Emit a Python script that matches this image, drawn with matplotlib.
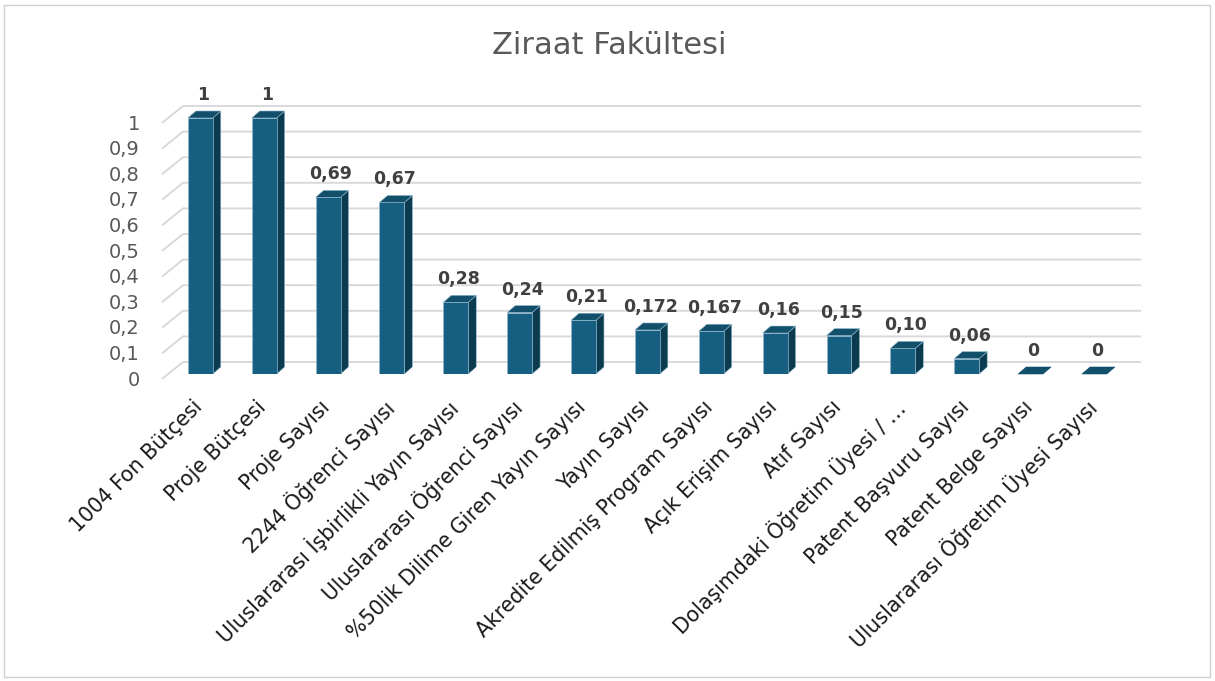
import matplotlib
matplotlib.use('Agg')
import matplotlib.pyplot as plt
from matplotlib.patches import Polygon, Rectangle
from matplotlib.lines import Line2D
from matplotlib.transforms import IdentityTransform
import numpy as np

# ---------------- data ----------------
title = 'Ziraat Fakültesi'
categories = [
    '1004 Fon Bütçesi',
    'Proje Bütçesi',
    'Proje Sayısı',
    '2244 Öğrenci Sayısı',
    'Uluslararası İşbirlikli Yayın Sayısı',
    'Uluslararası Öğrenci Sayısı',
    '%50lik Dilime Giren Yayın Sayısı',
    'Yayın Sayısı',
    'Akredite Edilmiş Program Sayısı',
    'Açık Erişim Sayısı',
    'Atıf Sayısı',
    'Dolaşımdaki Öğretim Üyesi / …',
    'Patent Başvuru Sayısı',
    'Patent Belge Sayısı',
    'Uluslararası Öğretim Üyesi Sayısı',
]
values = [1, 1, 0.69, 0.67, 0.28, 0.24, 0.21, 0.172, 0.167, 0.16, 0.15, 0.10, 0.06, 0, 0]
value_labels = ['1', '1', '0,69', '0,67', '0,28', '0,24', '0,21', '0,172', '0,167',
                '0,16', '0,15', '0,10', '0,06', '0', '0']
yticks = [0, 0.1, 0.2, 0.3, 0.4, 0.5, 0.6, 0.7, 0.8, 0.9, 1.0]
ytick_labels = ['0', '0,1', '0,2', '0,3', '0,4', '0,5', '0,6', '0,7', '0,8', '0,9', '1']

# ---------------- style ----------------
W, H = 1215, 681
FRONT = '#165F80'
TOP = '#114F6B'
SIDE = '#0C3B50'
EDGE = '#8FB8CC'
GRID = '#D9D9D9'
PX = 0.72  # points per pixel at dpi 100

fig = plt.figure(figsize=(W / 100, H / 100), dpi=100)
fig.patch.set_facecolor('white')
fig.add_artist(Rectangle((4 / W, 4 / H), (W - 9) / W, (H - 9) / H,
                         transform=fig.transFigure, fill=False, ec='#D0D0D0', lw=1.0))

ax = fig.add_axes([162 / W, (H - 374) / H, 958 / W, 256 / H])
ax.set_xlim(-0.6, 14.4)
ax.set_ylim(0, 1)
ax.set_facecolor('none')
for s in ax.spines.values():
    s.set_visible(False)
ax.set_xticks([])
ax.set_yticks([])

ident = IdentityTransform()
ytr = ax.get_yaxis_transform()

# back-wall gridlines with slanted side wall
GDX, GDY_FRONT, GDY_BACK = 21, -5, 12  # pixel offsets (dy positive = up)
for v, lab in zip(yticks, ytick_labels):
    x0, y0 = ytr.transform((0, v))
    x1, _ = ytr.transform((1, v))
    ax.add_line(Line2D([x0, x0 + GDX, x1 + GDX],
                       [y0 + GDY_FRONT, y0 + GDY_BACK, y0 + GDY_BACK],
                       transform=ident, color=GRID, lw=1.4, zorder=1,
                       clip_on=False, solid_capstyle='butt'))
    ax.annotate(lab, (0, v), xycoords=ytr, xytext=(-22 * PX, -6 * PX),
                textcoords='offset points', ha='right', va='center',
                fontsize=14, color='#595959')

# bars with 3D depth
x = np.arange(len(categories))
bw = 0.39
bars = ax.bar(x, values, bw, color=FRONT, ec=EDGE, lw=0.5, zorder=4)
DX, DY = 8, 7
for p in bars:
    bx0 = p.get_x()
    bx1 = bx0 + p.get_width()
    h = p.get_height()
    (ax0, ay0) = ax.transData.transform((bx0, 0))
    (ax1, ay1) = ax.transData.transform((bx1, h))
    # side face
    if h > 0:
        ax.add_patch(Polygon([[ax1, ay0], [ax1 + DX, ay0 + DY], [ax1 + DX, ay1 + DY], [ax1, ay1]],
                             closed=True, transform=ident, fc=SIDE, ec=EDGE, lw=0.4,
                             zorder=3, clip_on=False))
    # top face
    ax.add_patch(Polygon([[ax0, ay1], [ax0 + DX, ay1 + DY], [ax1 + DX, ay1 + DY], [ax1, ay1]],
                         closed=True, transform=ident, fc=TOP, ec=EDGE if h > 0 else TOP,
                         lw=0.4, zorder=5, clip_on=False))

# value labels
for xi, v, lab in zip(x, values, value_labels):
    ax.annotate(lab, (xi, v), xytext=(3 * PX, 23 * PX), textcoords='offset points',
                ha='center', va='center', fontsize=12.5, fontweight='bold',
                color='#404040', annotation_clip=False)

# category labels
for xi, lab in zip(x, categories):
    ax.annotate(lab, (xi, 0), xytext=(-1 * PX, -30 * PX), textcoords='offset points',
                ha='right', va='center', rotation=45, rotation_mode='anchor',
                fontsize=14.8, color='#1A1A1A', annotation_clip=False)

fig.text(609 / W, 1 - 45 / H, title, ha='center', va='center', fontsize=22, color='#595959')

fig.savefig('out.png', dpi=100, facecolor='white')
